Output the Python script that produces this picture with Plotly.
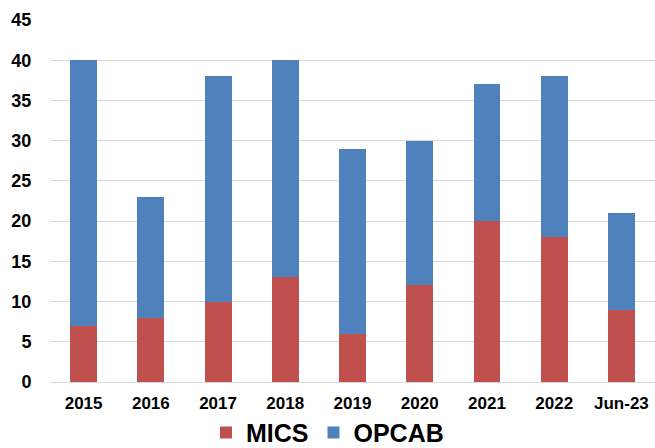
import plotly.graph_objects as go

categories = ["2015", "2016", "2017", "2018", "2019", "2020", "2021", "2022", "Jun-23"]
mics = [7, 8, 10, 13, 6, 12, 20, 18, 9]
opcab = [33, 15, 28, 27, 23, 18, 17, 20, 12]
y_ticks = [0, 5, 10, 15, 20, 25, 30, 35, 40, 45]

fig = go.Figure()
fig.add_trace(go.Bar(x=categories, y=mics, name="MICS", marker_color="#C0504D",
                     marker_line_width=0))
fig.add_trace(go.Bar(x=categories, y=opcab, name="OPCAB", marker_color="#4F81BD",
                     marker_line_width=0))

fig.update_layout(
    barmode="stack",
    bargap=0.6,
    width=655, height=448,
    margin=dict(l=50, r=0, t=20, b=66, autoexpand=False),
    plot_bgcolor="white", paper_bgcolor="white",
    font=dict(family="Liberation Sans, Arial", color="#000000"),
    showlegend=True,
    legend=dict(orientation="h", x=0.5, xanchor="center", xref="container",
                y=-0.14, yanchor="middle", yref="paper",
                font=dict(size=25, family="Liberation Sans, Arial", weight="bold"),
                itemwidth=30, traceorder="normal", tracegroupgap=0,
                bgcolor="rgba(0,0,0,0)"),
)
fig.update_yaxes(range=[0, 45], tickvals=y_ticks, showgrid=True, gridcolor="#D9D9D9",
                 gridwidth=1, zeroline=False, showline=False,
                 tickfont=dict(size=18, weight="bold"),
                 ticks="outside", ticklen=14, tickcolor="rgba(0,0,0,0)")
fig.update_xaxes(showline=True, linecolor="#D9D9D9", linewidth=1, showgrid=False,
                 tickfont=dict(size=17, weight="bold"),
                 ticks="outside", ticklen=6, tickcolor="rgba(0,0,0,0)")

fig.write_html("out.html")
